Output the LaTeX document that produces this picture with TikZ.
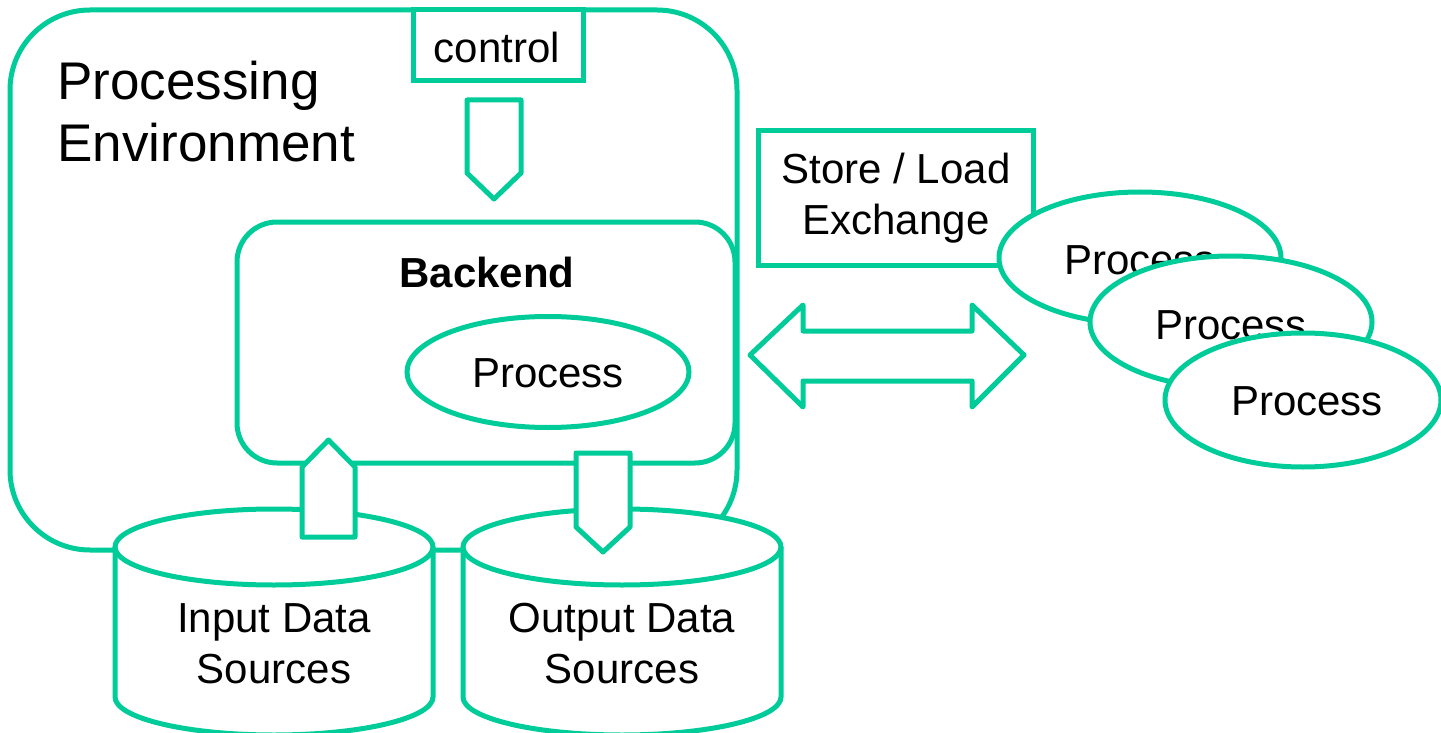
\documentclass[tikz,border=0pt]{standalone}
\usepackage{fontspec}
\setmainfont{Liberation Sans}
\usetikzlibrary{shapes.geometric}
\definecolor{mint}{RGB}{0,204,153}
\begin{document}
\begin{tikzpicture}[x=0.5pt,y=-0.5pt,
  box/.style={draw=mint, fill=white, rectangle, inner sep=0pt, line width=2.5pt},
  oval/.style={draw=mint, fill=white, ellipse, inner sep=0pt, line width=2.5pt},
  lbl/.style={font=\fontsize{21}{25.5}\selectfont, align=center, inner sep=0pt},
  big/.style={font=\fontsize{26.5}{31.5}\selectfont, inner sep=0pt, anchor=base west},
  cyl/.style={draw=mint, line width=2.5pt},
  blockarrow/.style={draw=mint, fill=white, line width=2.5pt, line join=round}]
\useasboundingbox (0,0) rectangle (1441,733);
% outer environment
\node[box, rounded corners=40pt, minimum width=363.5pt, minimum height=270pt] (env) at (373.5,280) {};
\node[box, minimum width=85pt, minimum height=35.5pt] (control) at (498,45.5) {};
\node[lbl] (controltxt) at (497,47) {control};
\draw[blockarrow] (467,100) -- (521,100) -- (521,173) -- (494,199) -- (467,173) -- cycle;
\node[big] (pe1) at (57,100) {Processing};
\node[big] (pe2) at (57,162) {Environment};
% backend
\node[box, rounded corners=20pt, minimum width=249pt, minimum height=120.5pt] (backend) at (486,342.5) {};
\node[lbl, font=\fontsize{21}{25.5}\selectfont\bfseries] (backendtxt) at (487,272) {Backend};
\node[oval, minimum width=141pt, minimum height=55.5pt] (proc) at (548,372) {};
\node[lbl] (proctxt) at (548,373) {Process};
% store / load
\node[box, minimum width=137.5pt, minimum height=67pt] (store) at (895.5,198) {};
\node[lbl] (storetxt) at (896,198.5) {Store / Load\\Exchange};
\node[oval, minimum width=141pt, minimum height=66pt] (p1) at (1140,258) {};
\node[lbl] (p1txt) at (1140,260) {Process};
\node[oval, minimum width=141pt, minimum height=66pt] (p2) at (1231,322) {};
\node[lbl] (p2txt) at (1231,325) {Process};
\node[oval, minimum width=138pt, minimum height=67pt] (p3) at (1303,400) {};
\node[lbl] (p3txt) at (1307,401) {Process};
% double arrow
\draw[blockarrow] (750,355) -- (803,305) -- (803,331) -- (972,331) -- (972,305) -- (1024,355) -- (972,407) -- (972,381) -- (803,381) -- (803,407) -- cycle;
% input cylinder
\fill[white] (115,547) -- (115,697) arc[start angle=180,end angle=360,x radius=79.5pt,y radius=19pt] -- (433,547) arc[start angle=0,end angle=180,x radius=79.5pt,y radius=19pt] -- cycle;
\draw[cyl] (115,547) -- (115,697) arc[start angle=180,end angle=360,x radius=79.5pt,y radius=19pt] -- (433,547);
\draw[cyl] (274,547) ellipse[x radius=79.5pt,y radius=19pt];
\node[lbl] (intxt) at (274,644) {Input Data\\Sources};
% output cylinder
\fill[white] (463,547) -- (463,697) arc[start angle=180,end angle=360,x radius=79.5pt,y radius=19pt] -- (781,547) arc[start angle=0,end angle=180,x radius=79.5pt,y radius=19pt] -- cycle;
\draw[cyl] (463,547) -- (463,697) arc[start angle=180,end angle=360,x radius=79.5pt,y radius=19pt] -- (781,547);
\draw[cyl] (622,547) ellipse[x radius=79.5pt,y radius=19pt];
\node[lbl] (outtxt) at (622,644) {Output Data\\Sources};
% up / down arrows
\draw[blockarrow] (302,537) -- (355,537) -- (355,467) -- (328.5,440) -- (302,467) -- cycle;
\draw[blockarrow] (576,453) -- (630,453) -- (630,527) -- (603,552) -- (576,527) -- cycle;
\end{tikzpicture}
\end{document}
